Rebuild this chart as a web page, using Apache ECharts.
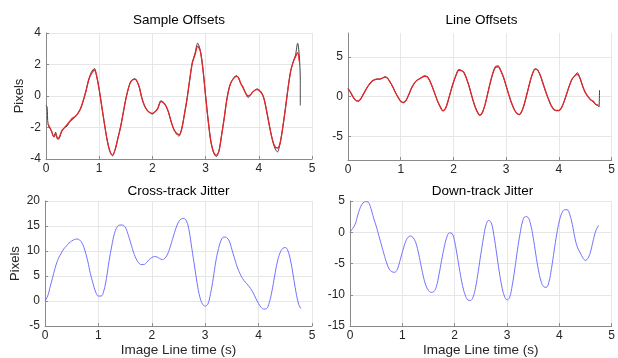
<!DOCTYPE html>
<html><head><meta charset="utf-8">
<script src="https://cdn.jsdelivr.net/npm/echarts@6/dist/echarts.min.js"></script>
<style>html,body{margin:0;padding:0;background:#fff}#c{width:618px;height:358px}</style>
</head><body><div id="c"></div>
<script>
// ---- titles and labels ----
const titles = ['Sample Offsets', 'Line Offsets', 'Cross-track Jitter', 'Down-track Jitter'];
const yName = 'Pixels';
const xName = 'Image Line time (s)';
const xTicks = [0, 1, 2, 3, 4, 5];
const lineOffsetTicks = [-5, 0, 5];

// ---- Sample Offsets (gray = raw, red = fit) ----
const sampleGrayTime = [
  0, 0.02, 0.04, 0.1, 0.15, 0.18, 0.22, 0.25, 0.3, 0.35,
  0.4, 0.45, 0.5, 0.55, 0.6, 0.65, 0.7, 0.75, 0.8, 0.85,
  0.91, 0.95, 1.0, 1.05, 1.1, 1.15, 1.2, 1.25, 1.3, 1.35,
  1.4, 1.45, 1.5, 1.55, 1.6, 1.67, 1.7, 1.75, 1.8, 1.85,
  1.9, 1.95, 2.0, 2.05, 2.1, 2.16, 2.2, 2.25, 2.3, 2.35,
  2.4, 2.45, 2.5, 2.55, 2.6, 2.65, 2.7, 2.75, 2.8, 2.85,
  2.9, 2.95, 3.0, 3.05, 3.1, 3.15, 3.2, 3.25, 3.3, 3.35,
  3.4, 3.45, 3.5, 3.58, 3.62, 3.66, 3.7, 3.75, 3.8, 3.85,
  3.9, 3.97, 4.02, 4.06, 4.1, 4.15, 4.2, 4.25, 4.3, 4.35,
  4.4, 4.45, 4.5, 4.55, 4.6, 4.65, 4.69, 4.73, 4.76, 4.78,
  4.78];
const sampleGray = [
  -0.6, -0.7, -1.8, -2.2, -2.6, -2.3, -2.75, -2.7, -2.2, -2.0,
  -1.9, -1.6, -1.5, -1.3, -1.1, -0.8, -0.3, 0.3, 1.0, 1.5,
  1.75, 1.3, 0.4, -0.7, -1.8, -2.8, -3.5, -3.8, -3.4, -2.7,
  -2.0, -1.1, -0.2, 0.5, 0.95, 1.1, 1.0, 0.6, -0.1, -0.6,
  -0.9, -1.05, -1.15, -1.0, -0.8, -0.3, -0.4, -0.6, -1.0, -1.6,
  -2.1, -2.4, -2.55, -2.1, -1.2, -0.2, 1.0, 2.1, 2.7, 3.35,
  2.9, 1.7, 0.0, -1.6, -2.9, -3.6, -3.85, -3.5, -2.5, -1.4,
  -0.2, 0.6, 1.0, 1.3, 1.15, 0.8, 0.6, 0.2, -0.1, 0.1,
  0.3, 0.45, 0.35, 0.15, -0.2, -1.0, -1.9, -2.7, -3.3, -3.55,
  -3.0, -2.0, -0.8, 0.5, 1.6, 2.2, 2.6, 3.35, 2.6, 1.0,
  -0.6];
const sampleRedTime = [
  0.04, 0.1, 0.15, 0.18, 0.22, 0.25, 0.3, 0.35,
  0.4, 0.45, 0.5, 0.55, 0.6, 0.65, 0.7, 0.75, 0.8, 0.85,
  0.91, 0.95, 1.0, 1.05, 1.1, 1.15, 1.2, 1.25, 1.3, 1.35,
  1.4, 1.45, 1.5, 1.55, 1.6, 1.67, 1.7, 1.75, 1.8, 1.85,
  1.9, 1.95, 2.0, 2.05, 2.1, 2.16, 2.2, 2.25, 2.3, 2.35,
  2.4, 2.45, 2.5, 2.55, 2.6, 2.65, 2.7, 2.75, 2.8, 2.85,
  2.9, 2.95, 3.0, 3.05, 3.1, 3.15, 3.2, 3.25, 3.3, 3.35,
  3.4, 3.45, 3.5, 3.58, 3.62, 3.66, 3.7, 3.75, 3.8, 3.85,
  3.9, 3.97, 4.02, 4.06, 4.1, 4.15, 4.2, 4.25, 4.3, 4.35,
  4.4, 4.45, 4.5, 4.55, 4.6, 4.65, 4.69, 4.73, 4.76];
const sampleRed = [
  -1.8, -2.2, -2.6, -2.4, -2.7, -2.6, -2.2, -2.0,
  -1.8, -1.6, -1.4, -1.3, -1.1, -0.8, -0.3, 0.3, 1.0, 1.4,
  1.65, 1.3, 0.4, -0.7, -1.8, -2.8, -3.5, -3.75, -3.4, -2.7,
  -2.0, -1.1, -0.2, 0.5, 0.95, 1.05, 1.0, 0.6, -0.1, -0.6,
  -0.9, -1.05, -1.1, -1.0, -0.8, -0.35, -0.4, -0.6, -1.0, -1.6,
  -2.1, -2.35, -2.45, -2.1, -1.2, -0.2, 1.0, 2.1, 2.6, 3.15,
  2.85, 1.7, 0.0, -1.6, -2.9, -3.55, -3.75, -3.5, -2.5, -1.4,
  -0.2, 0.6, 1.0, 1.25, 1.15, 0.8, 0.55, 0.2, 0.0, 0.1,
  0.3, 0.4, 0.3, 0.15, -0.2, -1.0, -1.9, -2.7, -3.2, -3.3,
  -3.0, -2.0, -0.8, 0.5, 1.6, 2.2, 2.5, 2.75, 2.2];

// ---- shared time base for the other panels ----
const lineTime = [
  0, 0.05, 0.1, 0.15, 0.2, 0.25, 0.3, 0.35, 0.4, 0.45,
  0.5, 0.55, 0.6, 0.65, 0.7, 0.75, 0.8, 0.85, 0.9, 0.95,
  1.0, 1.05, 1.1, 1.15, 1.2, 1.25, 1.3, 1.35, 1.4, 1.45,
  1.5, 1.55, 1.6, 1.65, 1.7, 1.75, 1.8, 1.85, 1.9, 1.95,
  2.0, 2.05, 2.1, 2.15, 2.2, 2.25, 2.3, 2.35, 2.4, 2.45,
  2.5, 2.55, 2.6, 2.65, 2.7, 2.75, 2.8, 2.85, 2.9, 2.95,
  3.0, 3.05, 3.1, 3.15, 3.2, 3.25, 3.3, 3.35, 3.4, 3.45,
  3.5, 3.55, 3.6, 3.65, 3.7, 3.75, 3.8, 3.85, 3.9, 3.95,
  4.0, 4.05, 4.1, 4.15, 4.2, 4.25, 4.3, 4.35, 4.4, 4.45,
  4.5, 4.55, 4.6, 4.65, 4.7, 4.75];

// ---- Line Offsets ----
const lineGray = [
  1.0, 0.5, -0.1, -0.5, -0.6, -0.2, 0.4, 1.0, 1.5, 1.9,
  2.1, 2.2, 2.2, 2.3, 2.5, 2.3, 1.8, 1.2, 0.5, -0.1,
  -0.6, -0.8, -0.5, 0.2, 1.0, 1.6, 2.0, 2.2, 2.4, 2.6,
  2.5, 2.0, 1.2, 0.3, -0.6, -1.3, -1.8, -1.5, -0.5, 0.7,
  1.8, 2.7, 3.4, 3.3, 3.0, 2.2, 1.2, 0.0, -1.1, -1.9,
  -2.4, -2.0, -1.0, 0.4, 1.8, 3.0, 3.8, 3.85, 3.2, 2.4,
  1.3, 0.2, -0.8, -1.6, -2.1, -2.3, -1.8, -0.8, 0.5, 1.8,
  2.9, 3.5, 3.3, 2.6, 1.6, 0.6, -0.3, -1.1, -1.6, -1.8,
  -1.8, -1.4, -0.6, 0.4, 1.4, 2.2, 2.6, 3.0, 2.3, 1.3,
  0.5, 0.0, -0.4, -0.7, -1.0, -1.2];
const lineGrayTailTime = [4.76, 4.77];
const lineGrayTail = [-1.3, 0.8];
const lineRed = [
  1.0, 0.5, -0.1, -0.5, -0.55, -0.2, 0.4, 1.0, 1.5, 1.9,
  2.1, 2.2, 2.2, 2.3, 2.45, 2.3, 1.8, 1.2, 0.5, -0.1,
  -0.6, -0.75, -0.5, 0.2, 1.0, 1.6, 2.0, 2.2, 2.4, 2.55,
  2.5, 2.0, 1.2, 0.3, -0.6, -1.3, -1.8, -1.5, -0.5, 0.7,
  1.8, 2.7, 3.3, 3.25, 3.0, 2.2, 1.2, 0.0, -1.1, -1.9,
  -2.35, -2.0, -1.0, 0.4, 1.8, 3.0, 3.7, 3.75, 3.2, 2.4,
  1.3, 0.2, -0.8, -1.6, -2.1, -2.25, -1.8, -0.8, 0.5, 1.8,
  2.9, 3.45, 3.3, 2.6, 1.6, 0.6, -0.3, -1.1, -1.6, -1.75,
  -1.75, -1.4, -0.6, 0.4, 1.4, 2.2, 2.6, 2.8, 2.3, 1.3,
  0.5, 0.0, -0.4, -0.6, -1.0, -1.1];

// ---- Cross-track Jitter ----
const crossTrack = [
  0.0, 1.0, 3.0, 5.0, 7.0, 8.5, 9.5, 10.4, 11.0, 11.6,
  12.0, 12.3, 12.4, 12.2, 11.5, 10.0, 8.0, 5.5, 3.5, 1.8,
  1.0, 1.0, 2.0, 4.5, 8.0, 11.0, 13.5, 14.8, 15.2, 15.2,
  14.8, 13.5, 11.8, 10.0, 8.6, 7.7, 7.3, 7.3, 7.7, 8.3,
  8.7, 8.9, 8.8, 8.5, 8.3, 8.6, 9.5, 11.0, 12.8, 14.5,
  15.8, 16.4, 16.5, 16.0, 14.0, 10.5, 7.0, 3.5, 0.8, -0.6,
  -1.0, -0.6, 1.5, 4.5, 8.0, 10.5, 12.2, 12.8, 12.7, 12.0,
  10.3, 8.5, 6.8, 5.5, 4.5, 3.8, 3.2, 2.5, 1.6, 0.5,
  -0.5, -1.3, -1.6, -1.5, -0.3, 2.0, 5.0, 7.8, 9.6, 10.5,
  10.7, 10.0, 8.0, 5.0, 1.8, -0.6];
const crossTailTime = [4.79];
const crossTail = [-1.5];

// ---- Down-track Jitter ----
const downTrack = [
  0.0, 0.6, 1.3, 2.8, 4.0, 4.7, 4.9, 4.8, 3.8, 2.3,
  1.0, -0.5, -2.0, -3.5, -4.9, -5.9, -6.3, -6.4, -6.0, -4.7,
  -3.2, -1.8, -0.9, -0.6, -0.8, -1.5, -3.0, -5.0, -7.0, -8.5,
  -9.3, -9.6, -9.5, -8.7, -6.8, -4.5, -2.4, -0.8, -0.1, -0.2,
  -1.5, -3.8, -6.3, -8.5, -10.0, -10.8, -10.9, -10.4, -8.8, -6.3,
  -3.5, -0.9, 1.2, 1.9, 1.5, -0.5, -3.3, -6.2, -8.6, -10.2,
  -10.8, -10.4, -8.5, -5.8, -2.8, -0.2, 1.8, 2.5, 2.4, 1.3,
  -0.8, -3.5, -6.0, -7.8, -8.7, -8.8, -8.0, -5.8, -3.0, -0.3,
  1.8, 3.1, 3.6, 3.6, 2.8, 1.2, -1.0, -2.5, -3.3, -4.1,
  -4.5, -4.1, -3.0, -1.2, 0.3, 1.1];

// ---- build ----
function pairs(t, v) { return t.map((x, i) => [x, v[i]]); }

const font = "'Liberation Sans', Arial, Helvetica, sans-serif";
const axisGray = '#8a8a8a';
const gridGray = '#e6e6e6';
const labelColor = '#262626';

const grids = [
  { left: 46, top: 33, width: 266, height: 126 },
  { left: 348, top: 33, width: 267, height: 127 },
  { left: 45, top: 201, width: 267, height: 126 },
  { left: 350, top: 201, width: 265, height: 126 }
];

function xAxis(i, named) {
  return {
    type: 'value', gridIndex: i, min: 0, max: 5, interval: 1,
    name: named ? xName : '', nameLocation: 'middle', nameGap: 16,
    nameTextStyle: { fontSize: 13.5, color: labelColor, fontFamily: font },
    axisLine: { show: true, onZero: false, lineStyle: { color: axisGray, width: 1 } },
    axisTick: { show: true, inside: true, length: 3, lineStyle: { color: axisGray } },
    axisLabel: { fontSize: 12, color: labelColor, margin: 4, fontFamily: font },
    splitLine: { show: true, lineStyle: { color: gridGray, width: 1 } }
  };
}
function yAxis(i, min, max, interval, named, gap, custom) {
  const ax = {
    type: 'value', gridIndex: i, min: min, max: max,
    name: named ? yName : '', nameLocation: 'middle', nameGap: gap,
    nameTextStyle: { fontSize: 13, color: labelColor, fontFamily: font },
    axisLine: { show: true, onZero: false, lineStyle: { color: axisGray, width: 1 } },
    axisTick: { show: true, inside: true, length: 3, lineStyle: { color: axisGray } },
    axisLabel: { fontSize: 12, color: labelColor, margin: 5, fontFamily: font },
    splitLine: { show: true, lineStyle: { color: gridGray, width: 1 } }
  };
  if (interval) ax.interval = interval;
  if (custom) {
    ax.axisLabel.customValues = custom;
    ax.axisTick.customValues = custom;
  }
  return ax;
}

const titleTops = [13, 13, 184, 184];
const option = {
  animation: false,
  backgroundColor: '#fff',
  graphic: titles.map((t, i) => ({
    type: 'text', x: grids[i].left + grids[i].width / 2, y: titleTops[i], silent: true,
    style: { text: t, align: 'center', verticalAlign: 'top', fill: '#000',
      fontSize: 13.5, fontFamily: font }
  })),
  grid: grids,
  xAxis: [xAxis(0, false), xAxis(1, false), xAxis(2, true), xAxis(3, true)],
  yAxis: [
    yAxis(0, -4, 4, 2, true, 20),
    yAxis(1, -8, 8, null, false, 20, lineOffsetTicks),
    yAxis(2, -5, 20, 5, true, 23),
    yAxis(3, -15, 5, 5, false, 24)
  ],
  series: [
    { type: 'line', xAxisIndex: 0, yAxisIndex: 0, data: pairs(sampleGrayTime, sampleGray),
      showSymbol: false, smooth: 0.3, lineStyle: { color: '#404040', width: 1 } },
    { type: 'line', xAxisIndex: 0, yAxisIndex: 0, data: pairs(sampleRedTime, sampleRed),
      showSymbol: false, smooth: 0.3, lineStyle: { color: '#e3262b', width: 1.3 } },
    { type: 'line', xAxisIndex: 1, yAxisIndex: 1,
      data: pairs(lineTime.concat(lineGrayTailTime), lineGray.concat(lineGrayTail)),
      showSymbol: false, smooth: 0.3, lineStyle: { color: '#404040', width: 1 } },
    { type: 'line', xAxisIndex: 1, yAxisIndex: 1, data: pairs(lineTime, lineRed),
      showSymbol: false, smooth: 0.3, lineStyle: { color: '#e3262b', width: 1.3 } },
    { type: 'line', xAxisIndex: 2, yAxisIndex: 2,
      data: pairs(lineTime.concat(crossTailTime), crossTrack.concat(crossTail)),
      showSymbol: false, smooth: 0.4, lineStyle: { color: '#7272ff', width: 1 } },
    { type: 'line', xAxisIndex: 3, yAxisIndex: 3, data: pairs(lineTime, downTrack),
      showSymbol: false, smooth: 0.4, lineStyle: { color: '#7272ff', width: 1 } }
  ]
};
const chart = echarts.init(document.getElementById('c'), null, { renderer: 'canvas' });
chart.setOption(option);
</script>
</body></html>
